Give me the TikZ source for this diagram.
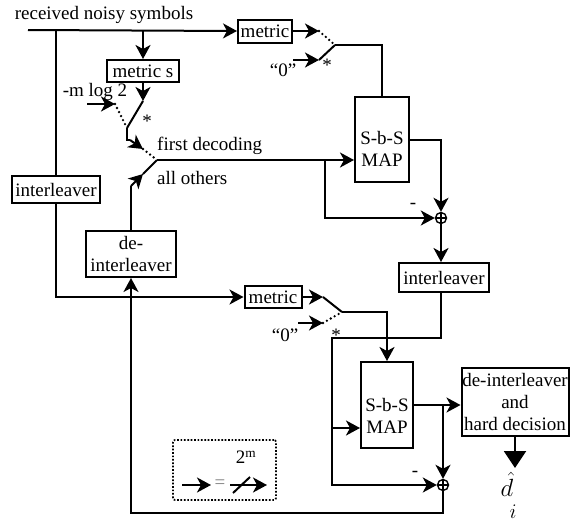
\documentclass[tikz,border=0pt]{standalone}
\usepackage{fontspec}
\setmainfont{Liberation Serif}
\usetikzlibrary{arrows.meta,calc}
\begin{document}
\begin{tikzpicture}[x=1pt,y=-1pt,
  every node/.style={font=\fontsize{19}{22}\selectfont},
  ln/.style={line width=2pt},
  box/.style={draw,line width=2pt,inner sep=0pt,align=center},
  arr/.style={line width=2pt,-{Stealth[length=14pt,width=15pt,inset=4pt]}},
  dots/.style={line width=2.6pt,dash pattern=on 0pt off 4.5pt,line cap=round},
  lbl/.style={inner sep=0pt,align=center},
  sumnode/.style={circle,draw,line width=1.4pt,minimum size=11pt,inner sep=0pt}]
\useasboundingbox (0,0) rectangle (571,523);

% ---- nodes
\node[lbl] (title) at (104,15) {received noisy symbols};
\node[box,minimum width=54pt,minimum height=23pt] (met1) at (265,31) {metric};
\node[box,minimum width=72pt,minimum height=22pt] (mets) at (143,71) {metric s};
\node[box,minimum width=88pt,minimum height=27pt] (ilL) at (56,189.5) {interleaver};
\node[box,minimum width=90pt,minimum height=46pt] (dilL) at (131,254) {de-\\interleaver};
\node[box,minimum width=54pt,minimum height=85pt] (map1) at (382,139.5) {};
\node[lbl] (map1t) at (382,149) {S-b-S\\MAP};
\node[sumnode] (plus1) at (441,218) {};
\node[box,minimum width=90pt,minimum height=29pt] (ilR) at (444,277.5) {interleaver};
\node[box,minimum width=57pt,minimum height=22pt] (met2) at (273,297) {metric};
\node[box,minimum width=52pt,minimum height=86pt] (map2) at (387,405) {};
\node[lbl] (map2t) at (387,416) {S-b-S\\MAP};
\node[box,minimum width=107pt,minimum height=68pt] (dihd) at (515,402) {de-interleaver\\and\\hard decision};
\node[sumnode] (plus2) at (443,485) {};
\draw[line width=1.2pt] (plus1.north) -- (plus1.south) (plus1.west) -- (plus1.east);
\draw[line width=1.2pt] (plus2.north) -- (plus2.south) (plus2.west) -- (plus2.east);

% ---- labels
\node[lbl] (q1) at (283,70) {“0”};
\node[lbl] (q2) at (285,335) {“0”};
\node[lbl] (s1) at (327,65) {*};
\node[lbl] (s2) at (147,121) {*};
\node[lbl] (s3) at (336,335) {*};
\node[lbl] (mlog) at (95,92) {-m log 2};
\node[lbl,anchor=west] (fd) at (157,146) {first decoding};
\node[lbl,anchor=west] (ao) at (157,178) {all others};
\node[lbl] (mi1) at (413,206) {-};
\node[lbl] (mi2) at (415,474) {-};
\node[lbl,anchor=base,font=\fontsize{24}{26}\selectfont] (dh) at (507,496) {$\hat{d}$};
\node[lbl,anchor=base,font=\fontsize{20}{22}\selectfont] (di) at (513,518) {$i$};

% ---- input line
\coordinate (in) at (28,30);
\draw[arr] (in) -- (met1.west);
\draw[ln] (ilL.north |- in) -- (ilL.north);
\draw[arr] (mets.north |- in) -- (mets.north);

% ---- top switch
\coordinate (c1a) at (319,31);
\coordinate (c1b) at (319,60);
\coordinate (z1) at (293,60);
\coordinate (p1) at (335,45);
\draw[arr] (met1.east) -- (c1a);
\draw[arr] (z1) -- (c1b);
\draw[dots] (c1a) -- (p1);
\draw[ln] (c1b) -- (p1);
\draw[ln] (p1) -| (map1.north);

% ---- first switch (metric s / -m log 2)
\coordinate (c2a) at (143,101);
\coordinate (m0) at (87,104);
\coordinate (c2b) at (115,104);
\coordinate (p2) at (127,128);
\draw[arr] (mets.south) -- (c2a);
\draw[ln] (c2a) -- (p2);
\draw[arr] (m0) -- (c2b);
\draw[dots] (c2b) -- (p2);

% ---- second switch (first decoding / all others)
\coordinate (k1) at (127,140);
\coordinate (k2) at (130,140);
\coordinate (c3a) at (143,149);
\coordinate (p3) at (157,160);
\coordinate (k3) at (131,186);
\coordinate (c3b) at (143,174);
\draw[ln] (p2) -- (k1) -- (k2);
\draw[arr] (k2) -- (c3a);
\draw[dots] (c3a) -- (p3);
\draw[ln] (dilL.north) -- (k3);
\draw[arr] (k3) -- (c3b);
\draw[ln] (c3b) -- (p3);

% ---- top decoder
\coordinate (jc) at (325,160);
\draw[arr] (p3) -- (map1.west |- p3);
\draw[arr] (jc) |- (plus1.west);
\draw[arr] (map1.east) -| (plus1.north);
\draw[arr] (plus1.south) -- (plus1.south |- ilR.north);

% ---- interleaver to second decoder
\coordinate (r0) at (441,292);
\coordinate (r1) at (441,338);
\coordinate (r2) at (332,338);
\coordinate (jd) at (332,428);
\draw[arr] (r0) -- (r1) -- (r2) |- (plus2.west);
\draw[arr] (jd) -- (map2.west |- jd);

% ---- bottom metric switch
\coordinate (c4a) at (323,297);
\coordinate (c4b) at (323,323);
\coordinate (z2) at (298,323);
\coordinate (p4) at (342,312);
\draw[arr] (ilL.south) |- (met2.west);
\draw[arr] (met2.east) -- (c4a);
\draw[arr] (z2) -- (c4b);
\draw[ln] (c4a) -- (p4);
\draw[dots] (c4b) -- (p4);
\draw[arr] (p4) -| (map2.north);

% ---- second decoder outputs
\coordinate (je) at (443,405);
\coordinate (fb) at (443,513);
\draw[arr] (map2.east) -- (dihd.west |- map2.east);
\draw[arr] (je) -- (plus2.north);
\draw[arr] (plus2.south) -- (fb) -| (dilL.south);
\draw[line width=2pt,-{Triangle[length=17pt,width=22pt]}] (dihd.south) -- ++(0,31);

% ---- legend
\node[draw,line width=1.7pt,dash pattern=on 1.7pt off 1.7pt,rounded corners=2pt,
      minimum width=103pt,minimum height=60pt,inner sep=0pt] (leg) at (224.5,470) {};
\coordinate (la) at (182,485);
\coordinate (lb) at (211,485);
\coordinate (lc) at (230,485);
\coordinate (ld) at (267,485);
\draw[arr] (la) -- (lb);
\node[lbl,text=gray] (eq) at (220,484) {=};
\draw[arr] (lc) -- (ld);
\draw[ln] (233,493) -- (250,477);
\node[lbl] (twom) at (246,457) {2\textsuperscript{m}};
\end{tikzpicture}
\end{document}
